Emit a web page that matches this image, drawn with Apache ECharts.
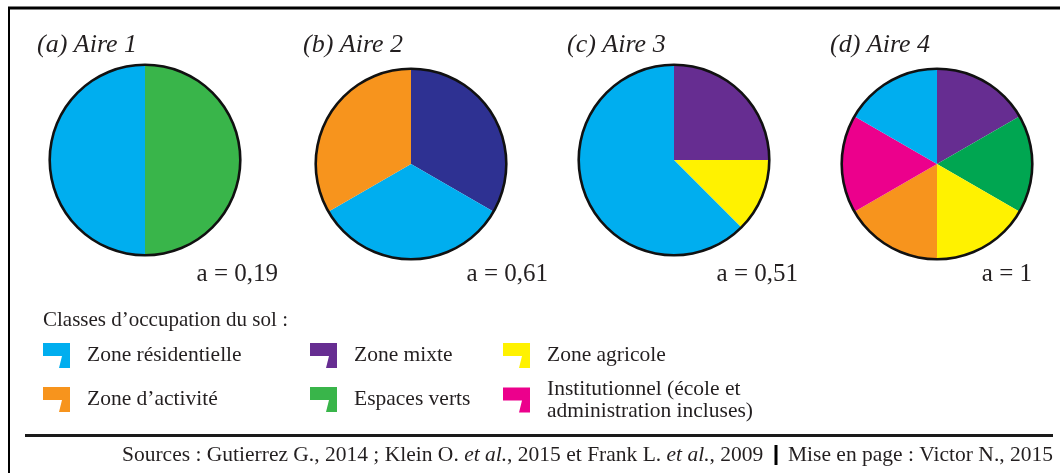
<!DOCTYPE html>
<html>
<head>
<meta charset="utf-8">
<script src="https://cdn.jsdelivr.net/npm/echarts@6/dist/echarts.min.js"></script>
<style>
  html, body { margin: 0; padding: 0; background: #ffffff; }
  #chart { width: 1060px; height: 473px; }
</style>
</head>
<body>
<div id="chart"></div>
<script>
// Panel titles and the index value printed under each pie
const areaTitles = ['(a) Aire 1', '(b) Aire 2', '(c) Aire 3', '(d) Aire 4'];
const indexLabels = ['a = 0,19', 'a = 0,61', 'a = 0,51', 'a = 1'];

// Land-use classes (legend order, column by column)
const classNames = [
  'Zone résidentielle',
  'Zone d’activité',
  'Zone mixte',
  'Espaces verts',
  'Zone agricole',
  'Institutionnel (école et\nadministration incluses)'
];

// Classes of each area, clockwise from 12 o'clock, with their shares (%)
const area1Classes = ['Espaces verts', 'Zone résidentielle'];
const area1Shares = [50, 50];
const area2Classes = ['Zone mixte', 'Zone résidentielle', 'Zone d’activité'];
const area2Shares = [33.3, 33.3, 33.3];
const area3Classes = ['Zone mixte', 'Zone agricole', 'Zone résidentielle'];
const area3Shares = [25, 12.5, 62.5];
const area4Classes = ['Zone mixte', 'Espaces verts', 'Zone agricole', 'Zone d’activité',
  'Institutionnel (école et\nadministration incluses)', 'Zone résidentielle'];
const area4Shares = [16.7, 16.7, 16.7, 16.7, 16.7, 16.7];

const legendTitle = 'Classes d’occupation du sol :';
const sourceLeft = 'Sources : Gutierrez G., 2014 ; Klein O. {i|et al.}, 2015 et Frank L. {i|et al.}, 2009';
const sourceRight = 'Mise en page : Victor N., 2015';

// ---- styling ----
const classColors = {
  'Zone résidentielle': '#00AEEF',
  'Zone d’activité': '#F7941D',
  'Zone mixte': '#662D91',
  'Espaces verts': '#39B54A',
  'Zone agricole': '#FFF200',
  'Institutionnel (école et\nadministration incluses)': '#EC008C'
};
// per-pie colour variants
const colorOverrides = [
  {},
  { 'Zone mixte': '#2E3192' },
  {},
  { 'Espaces verts': '#00A651' }
];

const areas = [
  [area1Classes, area1Shares],
  [area2Classes, area2Shares],
  [area3Classes, area3Shares],
  [area4Classes, area4Shares]
];
const centers = [[145, 160], [411, 164], [674, 160], [937, 164]];
const pieRadius = 95;
const titlePos = [[37, 45], [303, 45], [567, 45], [830, 45]];
const labelRight = [[278, 274], [548, 274], [798, 274], [1032, 274]];

const serif = '"Liberation Serif", "Times New Roman", serif';
const ink = '#231F20';
const legendIcon = 'path://M0,0 L27,0 L27,25 L16,25 L19,13 L0,13 Z';

const series = [];
areas.forEach(([classes, shares], i) => {
  series.push({
    type: 'pie',
    center: centers[i],
    radius: pieRadius,
    startAngle: 90,
    clockwise: true,
    silent: true,
    animation: false,
    label: { show: false },
    labelLine: { show: false },
    itemStyle: { borderWidth: 0 },
    data: classes.map((name, j) => ({
      name: name,
      value: shares[j],
      itemStyle: { color: colorOverrides[i][name] || classColors[name] }
    }))
  });
  // black outline ring around each pie
  series.push({
    type: 'pie',
    center: centers[i],
    radius: [pieRadius - 1, pieRadius + 1.6],
    silent: true,
    animation: false,
    label: { show: false },
    labelLine: { show: false },
    itemStyle: { color: '#111111', borderWidth: 0 },
    data: [{ name: 'contour', value: 1 }]
  });
});

function legendCol(left, names, gap) {
  return {
    orient: 'vertical',
    left: left,
    top: 343,
    padding: 0,
    itemWidth: 27,
    itemHeight: 25,
    itemGap: gap,
    selectedMode: false,
    textStyle: { fontFamily: serif, fontSize: 21.5, color: ink, padding: [0, 0, 0, 12], lineHeight: 22 },
    data: names.map(n => ({ name: n, icon: legendIcon, itemStyle: { color: classColors[n] } }))
  };
}

const graphic = [];
// frame lines
graphic.push({ type: 'line', shape: { x1: 8, y1: 8, x2: 1060, y2: 8 }, style: { stroke: '#000', lineWidth: 3 } });
graphic.push({ type: 'line', shape: { x1: 9, y1: 7, x2: 9, y2: 473 }, style: { stroke: '#000', lineWidth: 2 } });
graphic.push({ type: 'line', shape: { x1: 25, y1: 435.5, x2: 1053, y2: 435.5 }, style: { stroke: '#1a1a1a', lineWidth: 3 } });
graphic.push({ type: 'line', shape: { x1: 776, y1: 445, x2: 776, y2: 465 }, style: { stroke: '#000', lineWidth: 3 } });

areaTitles.forEach((t, i) => {
  graphic.push({
    type: 'text', x: titlePos[i][0], y: titlePos[i][1],
    style: { text: t, font: 'italic 26px ' + serif, fill: ink, align: 'left', verticalAlign: 'middle' }
  });
});
indexLabels.forEach((t, i) => {
  graphic.push({
    type: 'text', x: labelRight[i][0], y: labelRight[i][1],
    style: { text: t, font: '25px ' + serif, fill: ink, align: 'right', verticalAlign: 'middle' }
  });
});
graphic.push({
  type: 'text', x: 43, y: 320,
  style: { text: legendTitle, font: '21px ' + serif, fill: ink, align: 'left', verticalAlign: 'middle' }
});
graphic.push({
  type: 'text', x: 122, y: 455,
  style: {
    text: sourceLeft, font: '21.5px ' + serif, fill: ink, align: 'left', verticalAlign: 'middle',
    rich: { i: { font: 'italic 21.5px ' + serif, fill: ink } }
  }
});
graphic.push({
  type: 'text', x: 1053, y: 455,
  style: { text: sourceRight, font: '21.5px ' + serif, fill: ink, align: 'right', verticalAlign: 'middle' }
});

const chart = echarts.init(document.getElementById('chart'), null, { renderer: 'canvas' });
chart.setOption({
  backgroundColor: '#ffffff',
  animation: false,
  legend: [
    legendCol(43, [classNames[0], classNames[1]], 19),
    legendCol(310, [classNames[2], classNames[3]], 19),
    legendCol(503, [classNames[4], classNames[5]], 10)
  ],
  series: series,
  graphic: graphic
});
</script>
</body>
</html>
